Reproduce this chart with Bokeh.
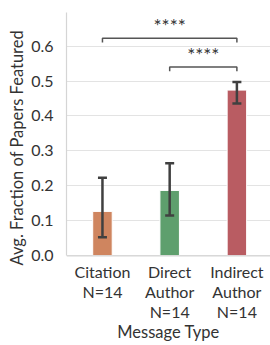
from bokeh.plotting import figure
from bokeh.models import ColumnDataSource, Whisker, TeeHead, FixedTicker, Range1d, Span, Title
from bokeh.core.properties import value
from bokeh.embed import file_html
from bokeh.resources import INLINE

cat_lines = [["Citation", "N=14", ""], ["Direct", "Author", "N=14"], ["Indirect", "Author", "N=14"]]
means = [0.127, 0.187, 0.474]
err_low = [0.053, 0.115, 0.436]
err_high = [0.223, 0.265, 0.497]
colors = ["#CF855F", "#5E9F6D", "#B95C62"]
yticks = [0.0, 0.1, 0.2, 0.3, 0.4, 0.5, 0.6]
sig_pairs = [(0, 2), (1, 2)]
sig_heights = [0.622, 0.540]
sig_labels = ["****", "****"]
x_title = "Message Type"
y_title = "Avg. Fraction of Papers Featured"

FONT = "Lato"
TXT = "#333333"
Y_TOP = 0.696

idx = list(range(len(cat_lines)))
src = ColumnDataSource(dict(x=idx, top=means, lo=err_low, hi=err_high, color=colors))

xr = Range1d(-0.535, 2.5)
p = figure(width=270, height=345, output_backend="svg", toolbar_location=None, title=None,
           x_range=xr, y_range=Range1d(-0.2566, Y_TOP), x_axis_location=None,
           min_border_left=66, min_border_right=0, min_border_top=12, min_border_bottom=0)
p.outline_line_color = None
p.background_fill_color = "white"

p.vbar(x="x", top="top", width=0.29, bottom=0, color="color", line_color="white",
       line_width=1, source=src)

w = Whisker(base="x", lower="lo", upper="hi", source=src, line_color="#404040", line_width=2.5,
            level="overlay",
            upper_head=TeeHead(size=9, line_color="#404040", line_width=2.5),
            lower_head=TeeHead(size=9, line_color="#404040", line_width=2.5))
p.add_layout(w)

leg = 0.012
for (a, b), h, lab in zip(sig_pairs, sig_heights, sig_labels):
    p.line([a, a, b, b], [h - leg, h, h, h - leg], line_color="#555555", line_width=1.5)
    p.text(x=[(a + b) / 2], y=[h + 0.036], text=[lab], text_align="center",
           text_baseline="alphabetic", text_font=value(FONT), text_font_size="19px",
           text_color=TXT)

p.yaxis.bounds = (0, Y_TOP)
p.yaxis.ticker = FixedTicker(ticks=yticks)
p.yaxis.major_label_overrides = {t: f"{t:.1f}" for t in yticks}
p.yaxis.major_tick_line_color = None
p.yaxis.minor_tick_line_color = None
p.yaxis.axis_line_color = "#d5d5d5"
p.yaxis.axis_line_width = 1.2
p.yaxis.major_label_text_font = FONT
p.yaxis.major_label_text_font_size = "16px"
p.yaxis.major_label_text_color = TXT
p.yaxis.major_label_standoff = 7

p.add_layout(Title(text=y_title, align="left", offset=80, standoff=4, text_font=FONT,
                   text_font_size="16.5px", text_font_style="normal", text_color=TXT), "left")

p.xgrid.grid_line_color = None
p.ygrid.grid_line_color = "#e3e3e3"
p.ygrid.grid_line_width = 1.2
p.add_layout(Span(location=0, dimension="width", line_color="#d5d5d5", line_width=1.2))

# category labels and x title drawn below y=0 inside the extended frame
line_y = [-0.0455, -0.1027, -0.1599]
for i, lines in zip(idx, cat_lines):
    for ly, t in zip(line_y, lines):
        if t:
            p.text(x=[i], y=[ly], text=[t], text_align="center", text_baseline="alphabetic",
                   text_font=value(FONT), text_font_size="16px", text_color=TXT)
p.text(x=[(xr.start + xr.end) / 2], y=[-0.2180], text=[x_title], text_align="center",
       text_baseline="alphabetic", text_font=value(FONT), text_font_size="16.5px",
       text_color=TXT)

open("out.html", "w").write(file_html(p, INLINE))
